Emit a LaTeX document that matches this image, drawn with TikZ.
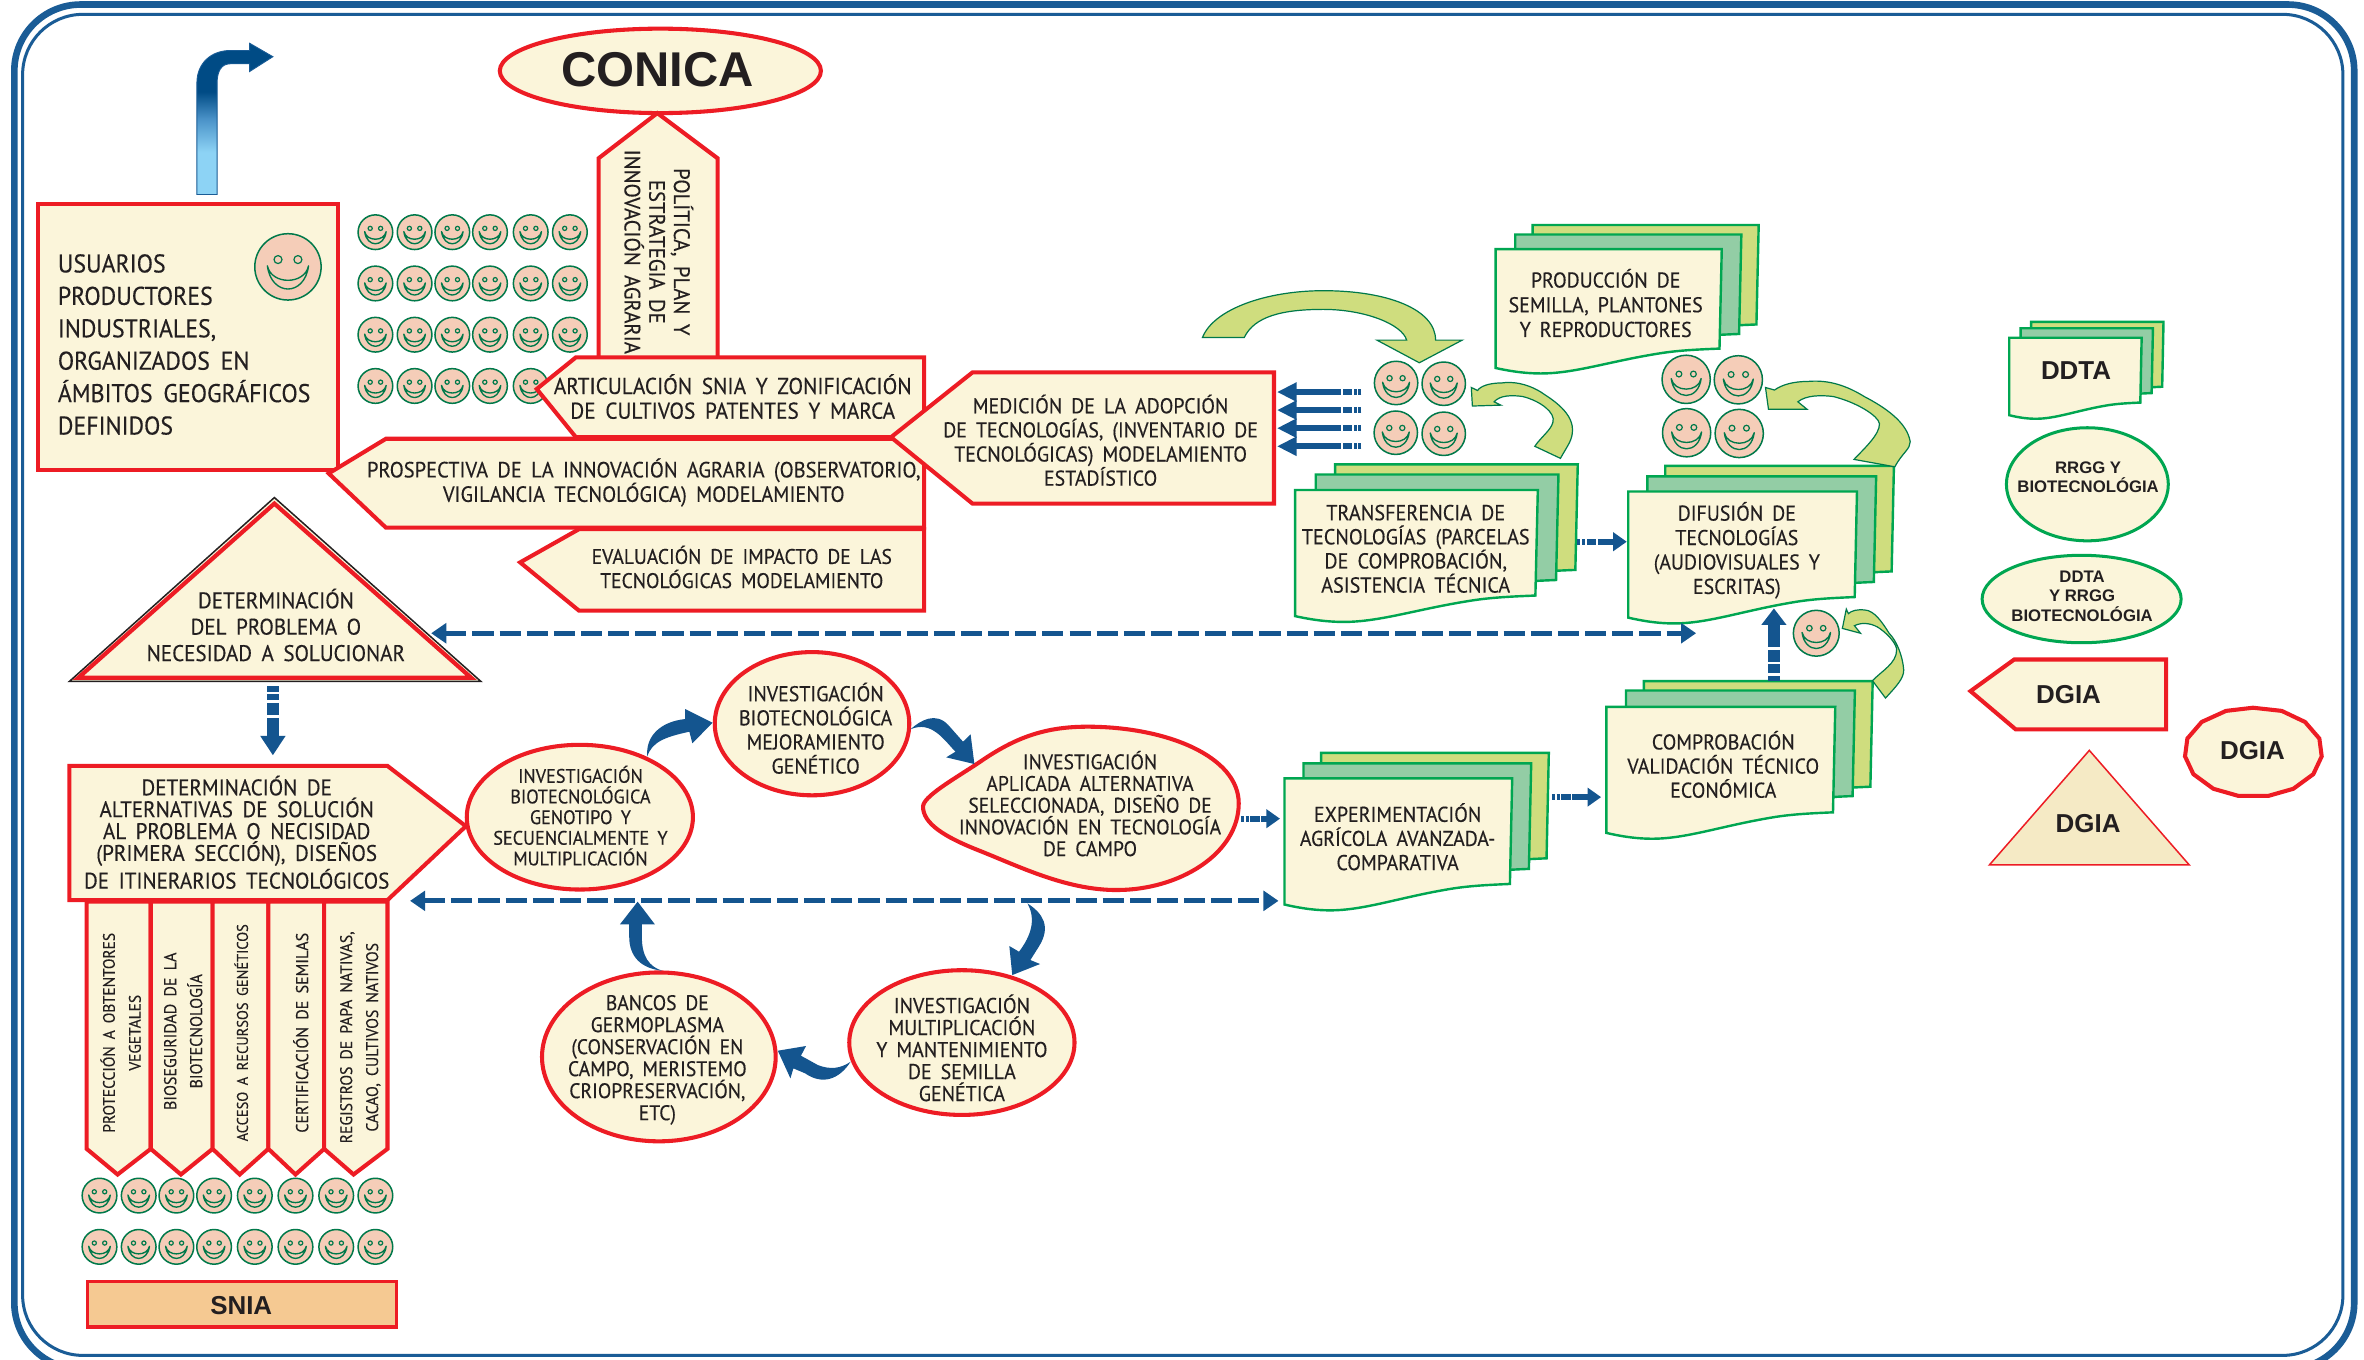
\documentclass[tikz,border=0pt]{standalone}
\usepackage{fontspec}
\setmainfont{PT Sans}[FakeStretch=0.93,FakeBold=0.3,WordSpace=1.7]
\newfontfamily\arialf{Liberation Sans}
\usetikzlibrary{arrows.meta,shapes.geometric,calc,shadings}
\definecolor{cream}{HTML}{FBF5DA}
\definecolor{rd}{HTML}{ED1C24}
\definecolor{grn}{HTML}{00A651}
\definecolor{midg}{HTML}{93CDA5}
\definecolor{ligg}{HTML}{CFDD7E}
\definecolor{blu}{HTML}{14558F}
\definecolor{frm}{HTML}{1A5C96}
\definecolor{txt}{HTML}{231F20}
\definecolor{face}{HTML}{F5CDB8}
\definecolor{fgrn}{HTML}{00794A}
\definecolor{sandc}{HTML}{F5EAC5}
\definecolor{snia}{HTML}{F5C992}
\definecolor{arrdark}{HTML}{004B85}
\definecolor{arrmid}{HTML}{4A92C8}
\definecolor{arrlight}{HTML}{8DD3F5}
\pgfdeclareverticalshading{upshade}{100bp}{color(0bp)=(arrlight);color(25bp)=(arrlight);color(39bp)=(arrlight);color(50bp)=(arrmid);color(59bp)=(arrdark);color(100bp)=(arrdark)}
\newcommand\fs[2]{\fontsize{#1}{#2}\selectfont}
\tikzset{
  redshape/.style={draw=rd,fill=cream,line width=1.35pt,line join=miter},
  ell/.style={ellipse,draw=rd,fill=cream,line width=1.35pt,inner sep=0pt},
  gell/.style={ellipse,draw=grn,fill=cream,line width=1pt,inner sep=0pt},
  lbl/.style={inner sep=0pt,align=center,text=txt,font=\fs{7.2}{8}},
  albl/.style={inner sep=0pt,align=center,text=txt,font=\arialf\bfseries\fs{8.6}{10}},
  page/.style={draw=grn,line width=.8pt,line join=miter},
  gcurve/.style={draw=fgrn,fill=ligg,line width=.4pt},
  dashedarrow/.style={draw=blu,line width=1.7pt,dash pattern=on 7pt off 2pt,{Triangle[width=6.5pt,length=5pt]}-{Triangle[width=6.5pt,length=5pt]}},
  shortarrow/.style={draw=blu,line width=1.9pt,dash pattern=on 1pt off .6pt on 1pt off .6pt on 3pt off .6pt on 30pt,-{Triangle[width=6pt,length=4.5pt]}},
  leftarrow/.style={draw=blu,line width=1.9pt,dash pattern=on 1pt off .6pt on 1pt off .6pt on 3pt off .6pt on 30pt,-{Triangle[width=6pt,length=6.5pt]}},
  fatshape/.style={fill=blu,draw=none},
  smiley/.pic={
    \draw[draw=fgrn,fill=face,line width=.5pt] (0,0) circle[radius=1];
    \draw[draw=fgrn,line width=.4pt] (-.3,-.22) circle[radius=.12] (.3,-.22) circle[radius=.12];
    \draw[draw=fgrn,line width=.45pt,line join=round] (-.62,-.03) .. controls (-.5,.9) and (.5,.9) .. (.62,-.03) .. controls (.5,.55) and (-.5,.55) .. cycle;
  }
}
% one page of a stack
\newcommand\docpage[5]{%
  \begin{scope}[shift={(#2,#3)},xscale=#4,yscale=#5]
    \draw[page,fill=#1] (0,0) -- (1,0) -- (.99,1) .. controls (.88,1.01) and (.8,1.02) .. (.72,1.05) .. controls (.5,1.13) and (.35,1.25) .. (.2,1.25) .. controls (.12,1.25) and (.05,1.22) .. (0,1.195) -- cycle;
  \end{scope}}
% x y w h dx1 dy1 dx2 dy2
\newcommand\docstack[8]{%
  \pgfmathsetmacro\xa{#1+#7}\pgfmathsetmacro\ya{#2+#8}%
  \docpage{ligg}{\xa}{\ya}{#3}{#4}%
  \pgfmathsetmacro\xa{#1+#5}\pgfmathsetmacro\ya{#2+#6}%
  \docpage{midg}{\xa}{\ya}{#3}{#4}%
  \docpage{cream}{#1}{#2}{#3}{#4}}
\begin{document}
\begin{tikzpicture}[x=0.5pt,y=-0.5pt]
\useasboundingbox (0,0) rectangle (1568,902);
\clip (0,0) rectangle (1568,902);
\fill[white] (0,0) rectangle (1568,902);
% frame
\draw[frm,line width=2.2pt,rounded corners=22pt] (9.5,3) rectangle (1561.5,908);
\draw[frm,line width=1pt,rounded corners=20pt] (15,9.5) rectangle (1554,899);

% shaded bent arrow
\shade[shading=upshade,draw=frm,line width=.3pt] (130.6,129) -- (130.6,55) .. controls (130.6,42) and (140,33.5) .. (152.7,33.5) -- (165.6,33.5) -- (165.6,28.7) -- (181,37.6) -- (165.6,47.4) -- (165.6,42.3) -- (152.7,42.3) .. controls (147,42.3) and (144,47) .. (144,55) -- (144,129) -- cycle;

% CONICA
\node[ell,minimum width=106.5pt,minimum height=28pt] (conica) at (438,47) {};
\node[albl,font=\arialf\bfseries\fs{16.2}{18}] (conicat) at (436,46) {CONICA};

% politica
\draw[redshape] (436,75) -- (476,105) -- (476,245) -- (397,245) -- (397,105) -- cycle;
\node[lbl,rotate=-90,font=\fs{7.4}{8.2}] (pol) at (437,167) {POLÍTICA, PLAN Y\\ESTRATEGIA DE\\INNOVACIÓN AGRARIA};

% usuarios
\draw[redshape] (25,135) rectangle (224,312);
\node[lbl,anchor=west,align=left,font=\fs{8.5}{10.75}] (usu) at (38,228.5) {USUARIOS\\PRODUCTORES\\INDUSTRIALES,\\ORGANIZADOS EN\\ÁMBITOS GEOGRÁFICOS\\DEFINIDOS};
\pic[scale=22] at (191,177) {smiley};

% smiley grid
\foreach \y in {154,188,222,256}
  \foreach \x in {249,275,300,325,352,378}
    \pic[scale=11.5] at (\x,\y) {smiley};

% articulacion / prospectiva / evaluacion
\draw[redshape] (356,258) -- (382,237) -- (613,237) -- (613,290) -- (382,290) -- cycle;
\node[lbl,font=\fs{7.6}{8.2}] (art) at (486,263) {ARTICULACIÓN SNIA Y ZONIFICACIÓN\\DE CULTIVOS PATENTES Y MARCA};
\draw[redshape] (218,314) -- (256,291) -- (613,291) -- (613,350) -- (256,350) -- cycle;
\node[lbl,font=\fs{7.3}{8.1}] (pro) at (427,320) {PROSPECTIVA DE LA INNOVACIÓN AGRARIA (OBSERVATORIO,\\VIGILANCIA TECNOLÓGICA) MODELAMIENTO};
\draw[redshape] (345,373) -- (384,351) -- (613,351) -- (613,405) -- (384,405) -- cycle;
\node[lbl,font=\fs{7}{8}] (eva) at (492,376) {EVALUACIÓN DE IMPACTO DE LAS\\TECNOLÓGICAS MODELAMIENTO};

% medicion
\draw[redshape] (591,290) -- (645,247) -- (845,247) -- (845,334) -- (645,334) -- cycle;
\node[lbl,font=\fs{7.1}{8}] (med) at (730,292) {MEDICIÓN DE LA ADOPCIÓN\\DE TECNOLOGÍAS, (INVENTARIO DE\\TECNOLÓGICAS) MODELAMIENTO\\ESTADÍSTICO};

% triangle
\draw[draw=txt,fill=cream,line width=.5pt,line join=miter] (182,330) -- (319,452) -- (46,452) -- cycle;
\draw[draw=rd,line width=1.4pt,line join=miter] (182,334) -- (312.5,449.5) -- (52,449.5) -- cycle;
\node[lbl,font=\fs{7.5}{8.75}] (tri) at (183,414.5) {DETERMINACIÓN\\DEL PROBLEMA O\\NECESIDAD A SOLUCIONAR};

% determinacion alternativas
\draw[redshape] (46,508) -- (257,508) -- (309,548) -- (257,597) -- (46,597) -- cycle;
\node[lbl,font=\fs{7.5}{7.25}] (alt) at (157,552) {DETERMINACIÓN DE\\ALTERNATIVAS DE SOLUCIÓN\\AL PROBLEMA O NECISIDAD\\(PRIMERA SECCIÓN), DISEÑOS\\DE ITINERARIOS TECNOLÓGICOS};

% vertical tags
\draw[redshape] (57.5,598) -- (100,598) -- (100,762) -- (78,779) -- (57.5,762) -- cycle;
\draw[redshape] (100,598) -- (141,598) -- (141,762) -- (120,779) -- (100,762) -- cycle;
\draw[redshape] (141,598) -- (178,598) -- (178,762) -- (159,779) -- (141,762) -- cycle;
\draw[redshape] (178,598) -- (215,598) -- (215,762) -- (196,779) -- (178,762) -- cycle;
\draw[redshape] (215,598) -- (257,598) -- (257,762) -- (234.5,779) -- (215,762) -- cycle;
\node[lbl,rotate=90,font=\fs{5.5}{8.6}] (t1) at (80,685) {PROTECCIÓN A OBTENTORES\\VEGETALES};
\node[lbl,rotate=90,font=\fs{5.7}{8.6}] (t2) at (121.5,684) {BIOSEGURIDAD DE LA\\BIOTECNOLOGÍA};
\node[lbl,rotate=90,font=\fs{5.15}{8.6}] (t3) at (160,685) {ACCESO A RECURSOS GENÉTICOS};
\node[lbl,rotate=90,font=\fs{5.7}{8.6}] (t4) at (199.5,685) {CERTIFICACIÓN DE SEMILAS};
\node[lbl,rotate=90,font=\fs{5.6}{8.6}] (t5) at (239,688) {REGISTROS DE PAPA NATIVAS,\\CACAO, CULTIVOS NATIVOS};

% bottom smileys
\foreach \y in {793,827}
  \foreach \x in {66,92,117,142,169,196,223,249}
    \pic[scale=11.5] at (\x,\y) {smiley};

% SNIA
\draw[draw=rd,fill=snia,line width=1.25pt] (58,850) rectangle (263,880);
\node[albl,font=\arialf\bfseries\fs{8.6}{10}] (sni) at (160,866) {SNIA};

% ellipses
\node[ell,minimum width=75pt,minimum height=48pt] (gen) at (384.6,542) {};
\node[lbl,font=\fs{6.5}{6.85}] (gent) at (385,541) {INVESTIGACIÓN\\BIOTECNOLÓGICA\\GENOTIPO Y\\SECUENCIALMENTE Y\\MULTIPLICACIÓN};
\node[ell,minimum width=64.5pt,minimum height=47.5pt] (mej) at (538.6,480) {};
\node[lbl,font=\fs{7.1}{8}] (mejt) at (541,483) {INVESTIGACIÓN\\BIOTECNOLÓGICA\\MEJORAMIENTO\\GENÉTICO};
\begin{scope}[shift={(411.2,424.5)},xscale=.2792,yscale=.2211]
\draw[redshape] (720,500) .. controls (720,470) and (790,420) .. (850,370) .. controls (930,300) and (1000,260) .. (1110,260) .. controls (1300,260) and (1470,350) .. (1470,490) .. controls (1470,640) and (1330,750) .. (1180,750) .. controls (1060,750) and (950,680) .. (850,630) .. controls (770,590) and (720,550) .. (720,500) -- cycle;
\end{scope}
\node[lbl,font=\fs{7}{7.2}] (apl) at (723,533) {INVESTIGACIÓN\\APLICADA ALTERNATIVA\\SELECCIONADA, DISEÑO DE\\INNOVACIÓN EN TECNOLOGÍA\\DE CAMPO};
\node[ell,minimum width=74.7pt,minimum height=48pt] (mul) at (638,691.5) {};
\node[lbl,font=\fs{7.1}{7.3}] (mult) at (638,695) {INVESTIGACIÓN\\MULTIPLICACIÓN\\Y MANTENIMIENTO\\DE SEMILLA\\GENÉTICA};
\node[ell,minimum width=77.5pt,minimum height=56pt] (ban) at (437,701) {};
\node[lbl,font=\fs{7}{7.3}] (bant) at (436,703) {BANCOS DE\\GERMOPLASMA\\(CONSERVACIÓN EN\\CAMPO, MERISTEMO\\CRIOPRESERVACIÓN,\\ETC)};

% stacks
\docstack{992}{165.2}{150}{66}{13}{-9.7}{24.5}{-16}
\node[lbl,font=\fs{7.1}{8.2}] (prd) at (1065,201) {PRODUCCIÓN DE\\SEMILLA, PLANTONES\\Y REPRODUCTORES};
\docstack{859}{325}{161}{70}{13.7}{-10.3}{26.5}{-17}
\node[lbl,font=\fs{7.2}{8}] (tra) at (939,364) {TRANSFERENCIA DE\\TECNOLOGÍAS (PARCELAS\\DE COMPROBACIÓN,\\ASISTENCIA TÉCNICA};
\docstack{1080}{326}{151.7}{70}{12.7}{-10}{24.5}{-17}
\node[lbl,font=\fs{7.1}{8.1}] (dif) at (1152,365) {DIFUSIÓN DE\\TECNOLOGÍAS\\(AUDIOVISUALES Y\\ESCRITAS)};
\docstack{852}{516.3}{151}{70}{12.6}{-10}{24.3}{-17}
\node[lbl,font=\fs{7.1}{8}] (exp) at (927,555) {EXPERIMENTACIÓN\\AGRÍCOLA AVANZADA-\\COMPARATIVA};
\docstack{1065.5}{468.8}{151.8}{70}{13}{-10.8}{24.8}{-17}
\node[lbl,font=\fs{7.1}{8}] (com) at (1143,507) {COMPROBACIÓN\\VALIDACIÓN TÉCNICO\\ECONÓMICA};

% smiley clusters
\foreach \x/\y in {926/254,957.6/254.5,925.8/287,957.6/287.7} \pic[scale=14.4] at (\x,\y) {smiley};
\foreach \x/\y in {1118.4/251.6,1153/251.9,1118.7/287,1153.6/287.5} \pic[scale=16] at (\x,\y) {smiley};
\pic[scale=15.2] at (1204.7,420) {smiley};

% green curved block arrows
\draw[gcurve] (797.6,223.8) .. controls (805,205) and (840,192.8) .. (877.8,192.8) .. controls (920,192.8) and (952.2,205) .. (952.2,225.6) -- (969.8,225.6) -- (941.4,240.6) -- (913.3,225.6) -- (933,225.6) .. controls (930,215) and (905,205.2) .. (877.8,205.2) .. controls (850,205.2) and (832,210) .. (825.3,223.8) -- cycle;
\draw[gcurve] (975.9,257) -- (976.6,269.3) -- (995.5,268.7) -- (991,266.5) .. controls (995,262) and (1003,262) .. (1010,263) .. controls (1022,266) and (1032,274) .. (1030,280) .. controls (1029,285) and (1022,290) .. (1018,296) -- (1035,304) .. controls (1040,295) and (1043,292) .. (1043,285) .. controls (1043,272) and (1026,263) .. (1022,260) .. controls (1012,254) and (1003,253) .. (996,254) .. controls (988,254) and (982,256) .. (980,259) -- cycle;
\draw[gcurve] (1171,257) -- (1173,271.5) -- (1198.6,271.5) -- (1192.5,266.5) .. controls (1198,262) and (1208,262) .. (1216,263) .. controls (1232,267) and (1246,276) .. (1246.6,281) .. controls (1247,288) and (1236,298) .. (1229.7,304.7) -- (1256.8,309.6) .. controls (1262,300) and (1267,298) .. (1267,293) .. controls (1265,280) and (1250,270) .. (1236.5,263) .. controls (1222,254) and (1210,252) .. (1199,253) .. controls (1190,253) and (1182,255) .. (1177,258.7) -- cycle;
\draw[gcurve] (1224.6,404) -- (1222,416.8) -- (1234,420) -- (1230,415) .. controls (1236,412) and (1243,414) .. (1247,417) .. controls (1254,422) and (1258,428) .. (1258,431) .. controls (1258,440) and (1248,445) .. (1242,451.5) -- (1250.6,463) .. controls (1258,455) and (1262.7,450) .. (1262.7,444.4) .. controls (1262,435) and (1258,425) .. (1253,420) .. controls (1248,412) and (1243,405) .. (1237,404.6) .. controls (1232,404) and (1228,405) .. (1226,407) -- cycle;

% blue connectors
\foreach \yy/\nm in {260/a,272/b,284/c,296/d}{
  \coordinate (l\nm) at (903,\yy);
  \coordinate (r\nm) at (847,\yy);
  \draw[leftarrow] (l\nm) -- (r\nm);
}
\coordinate (d1a) at (286,420); \coordinate (d1b) at (1125,420);
\draw[dashedarrow] (d1a) -- (d1b);
\coordinate (d2a) at (272,597.5); \coordinate (d2b) at (848,597.5);
\draw[dashedarrow] (d2a) -- (d2b);
\coordinate (tdown) at (181,455); \coordinate (adown) at (181,501);
\draw[draw=blu,line width=4pt,dash pattern=on 2pt off .8pt on 2pt off .8pt on 4pt off 1pt on 30pt,-{Triangle[width=8pt,length=6.5pt]}] (tdown) -- (adown);
\coordinate (tr1) at (1046.3,359.3); \coordinate (tr2) at (1079,359.3);
\draw[shortarrow] (tr1) -- (tr2);
\coordinate (ex1) at (1029.3,528.7); \coordinate (ex2) at (1062,528.7);
\draw[shortarrow] (ex1) -- (ex2);
\coordinate (ap1) at (823,543); \coordinate (ap2) at (849,543);
\draw[shortarrow] (ap1) -- (ap2);
\coordinate (co1) at (1176.6,451.7); \coordinate (co2) at (1176.6,403.5);
\draw[draw=blu,line width=4pt,dash pattern=on 1.8pt off .8pt on 3pt off .8pt on 4pt off 1pt on 30pt,-{Triangle[width=8pt,length=5.5pt]}] (co1) -- (co2);
% fat curved arrows (tapered block arrows)
\begin{scope}[shift={(411.2,424.5)},xscale=.2792,yscale=.2211]
\fill[fatshape] (65,350) .. controls (60,290) and (95,245) .. (155,237) -- (155,207) -- (220,248) -- (172,310) -- (165,275) .. controls (110,290) and (75,305) .. (65,350) -- cycle;
\fill[fatshape] (690,268) .. controls (715,240) and (750,215) .. (780,255) -- (815,305) -- (833,283) -- (842,372) -- (775,352) -- (797,335) .. controls (770,300) and (740,240) .. (690,268) -- cycle;
\fill[fatshape] (968,790) .. controls (1005,820) and (1025,860) .. (995,920) -- (975,960) -- (998,972) -- (932,1005) -- (925,918) -- (948,935) .. controls (975,890) and (990,840) .. (968,790) -- cycle;
\fill[fatshape] (548,1265) .. controls (520,1320) and (480,1335) .. (440,1300) -- (412,1285) -- (405,1315) -- (375,1232) -- (442,1218) -- (430,1247) -- (470,1275) .. controls (500,1290) and (525,1285) .. (548,1265) -- cycle;
\fill[fatshape] (100,992) .. controls (50,985) and (22,950) .. (22,890) -- (22,853) -- (0,853) -- (42,785) -- (83,853) -- (52,853) -- (52,890) .. controls (52,950) and (70,980) .. (100,992) -- cycle;
\end{scope}

% legend
\docstack{1332.7}{224}{87.8}{43}{7.5}{-6.3}{14.5}{-10.5}
\node[albl] (l1) at (1377,246) {DDTA};
\node[gell,minimum width=53.7pt,minimum height=37.5pt] (l2) at (1384.5,321.2) {};
\node[albl,font=\arialf\bfseries\fs{5.55}{6.5}] (l2t) at (1385,316.5) {RRGG Y\\BIOTECNOLÓGIA};
\node[gell,minimum width=66pt,minimum height=29pt] (l3) at (1380.7,397.3) {};
\node[albl,font=\arialf\bfseries\fs{5.55}{6.5}] (l3t) at (1381,395.5) {DDTA\\Y RRGG\\BIOTECNOLÓGIA};
\draw[redshape] (1307,458.4) -- (1336,437.4) -- (1436.7,437.4) -- (1436.7,483.8) -- (1337,483.8) -- cycle;
\node[albl] (l4) at (1372,461) {DGIA};
\begin{scope}[shift={(1293.4,185.7)},xscale=.2211,yscale=.2622]
\draw[redshape] (705,1205) -- (712,1160) -- (755,1118) -- (828,1090) -- (909,1082) -- (995,1090) -- (1065,1118) -- (1108,1160) -- (1115,1205) -- (1090,1250) -- (1030,1287) -- (955,1305) -- (865,1305) -- (790,1287) -- (730,1250) -- cycle;
\end{scope}
\node[albl] (l5) at (1494,498) {DGIA};
\draw[draw=rd,fill=sandc,line width=.5pt] (1385.8,497.7) -- (1452.1,573.7) -- (1319.5,573.7) -- cycle;
\node[albl] (l6) at (1385,546) {DGIA};
\end{tikzpicture}
\end{document}
